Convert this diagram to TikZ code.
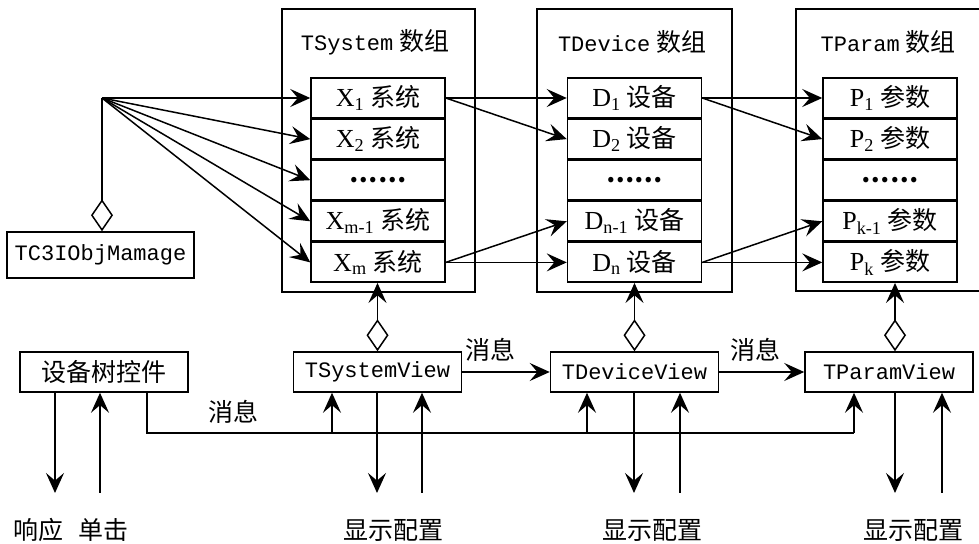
\documentclass[tikz,border=0pt]{standalone}
\usepackage{fontspec}
\setmainfont{Noto Sans CJK SC}
\setmonofont{Liberation Mono}
\newfontfamily\cellfont{Liberation Serif}
\usetikzlibrary{arrows.meta,positioning}
\newcommand{\lat}[1]{{\fontsize{11}{13}\selectfont\ttfamily #1}}
\newcommand{\idx}[2]{{\cellfont\fontsize{13}{15}\selectfont #1\textsubscript{#2}}}

\begin{document}
\begin{tikzpicture}[x=0.5pt, y=-0.5pt, line width=0.75pt,
  >={Stealth[length=10pt,width=9pt,inset=3.8pt]},
  every node/.style={font=\fontsize{12.5}{15}\selectfont},
  cell/.style={draw, minimum width=67pt, minimum height=19.8pt, inner sep=0pt},
  view/.style={draw, minimum width=84pt, minimum height=20pt, inner sep=0pt},
  agg/.style={{Diamond[open,length=16pt,width=11pt]}->},
  bus/.style={line width=1.2pt}]
  \useasboundingbox (0,0) rectangle (979,544);

  % arrays
  \draw (282,9) rectangle (475,292);
  \draw (537,9) rectangle (732,292);
  \draw (979,9) -- (796,9) -- (796,291) -- (979,291);
  \node (tsys) at (375,42) {\lat{TSystem} 数组};
  \node (tdev) at (632,42) {\lat{TDevice} 数组};
  \node (tpar) at (888,42) {\lat{TParam} 数组};

  \node[cell] (x1) at (378,98) {\idx{X}{1} 系统};
  \node[cell, below=0pt of x1] (x2) {\idx{X}{2} 系统};
  \node[cell, below=0pt of x2] (x3) {\textbf{……}};
  \node[cell, below=0pt of x3] (x4) {\idx{X}{m-1} 系统};
  \node[cell, below=0pt of x4] (x5) {\idx{X}{m} 系统};

  \node[cell] (d1) at (634.5,98) {\idx{D}{1} 设备};
  \node[cell, below=0pt of d1] (d2) {\idx{D}{2} 设备};
  \node[cell, below=0pt of d2] (d3) {\textbf{……}};
  \node[cell, below=0pt of d3] (d4) {\idx{D}{n-1} 设备};
  \node[cell, below=0pt of d4] (d5) {\idx{D}{n} 设备};

  \node[cell] (p1) at (890,98) {\idx{P}{1} 参数};
  \node[cell, below=0pt of p1] (p2) {\idx{P}{2} 参数};
  \node[cell, below=0pt of p2] (p3) {\textbf{……}};
  \node[cell, below=0pt of p3] (p4) {\idx{P}{k-1} 参数};
  \node[cell, below=0pt of p4] (p5) {\idx{P}{k} 参数};

  % manager
  \node[draw, minimum width=93.5pt, minimum height=23pt, inner sep=0pt] (mgr) at (100.5,255) {\lat{TC3IObjMamage}};
  \coordinate (fan) at (102,98);
  \draw[{Diamond[open,length=16pt,width=11pt]}-] (mgr.north -| fan) -- (fan);
  \foreach \c in {x1,x2,x3,x4,x5}
    \draw[->] (fan) -- (\c.west);

  \draw[->] (x1.east) -- (d1.west);
  \draw[->] (x1.east) -- (d2.west);
  \draw[->] (x5.east) -- (d4.west);
  \draw[->] (x5.east) -- (d5.west);
  \draw[->] (d1.east) -- (p1.west);
  \draw[->] (d1.east) -- (p2.west);
  \draw[->] (d5.east) -- (p4.west);
  \draw[->] (d5.east) -- (p5.west);

  % views
  \node[view] (tree) at (104,372) {设备树控件};
  \node[view] (sview) at (377.5,372) {\lat{TSystemView}};
  \node[view] (dview) at (634.5,372) {\lat{TDeviceView}};
  \node[view] (pview) at (889,372) {\lat{TParamView}};

  \draw[agg] (sview.north) -- (sview.north |- x5.south);
  \draw[agg] (dview.north) -- (dview.north |- d5.south);
  \draw[agg] ([xshift=3pt]pview.north) -- ([xshift=3pt]pview.north |- p5.south);

  \draw[->] (sview) -- (dview);
  \draw[->] (dview) -- (pview);
  \node (msg1) at (233,412) {消息};
  \node (msg2) at (490,350) {消息};
  \node (msg3) at (755,350) {消息};

  \coordinate (bus) at (147,433);
  \coordinate (b1) at (332,433);
  \coordinate (b2) at (587,433);
  \coordinate (b3) at (854,433);
  \draw[bus] (tree.south -| bus) -- (bus) -- (b3);
  \draw[->] (b1) -- (sview.south -| b1);
  \draw[->] (b2) -- (dview.south -| b2);
  \draw[->] (b3) -- (pview.south -| b3);

  % outside
  \coordinate (t1) at (55,493);
  \coordinate (t2) at (100,493);
  \coordinate (s1) at (377,493);
  \coordinate (s2) at (422,493);
  \coordinate (e1) at (634,493);
  \coordinate (e2) at (680,493);
  \coordinate (r1) at (895,493);
  \coordinate (r2) at (942,493);
  \draw[->] (tree.south -| t1) -- (t1);
  \draw[->] (t2) -- (tree.south -| t2);
  \draw[->] (sview.south -| s1) -- (s1);
  \draw[->] (s2) -- (sview.south -| s2);
  \draw[->] (dview.south -| e1) -- (e1);
  \draw[->] (e2) -- (dview.south -| e2);
  \draw[->] (pview.south -| r1) -- (r1);
  \draw[->] (r2) -- (pview.south -| r2);

  \node (resp) at (38,530) {响应};
  \node (click) at (103,530) {单击};
  \node (show1) at (393,530) {显示配置};
  \node (show2) at (652,530) {显示配置};
  \node (show3) at (913,530) {显示配置};
\end{tikzpicture}
\end{document}
